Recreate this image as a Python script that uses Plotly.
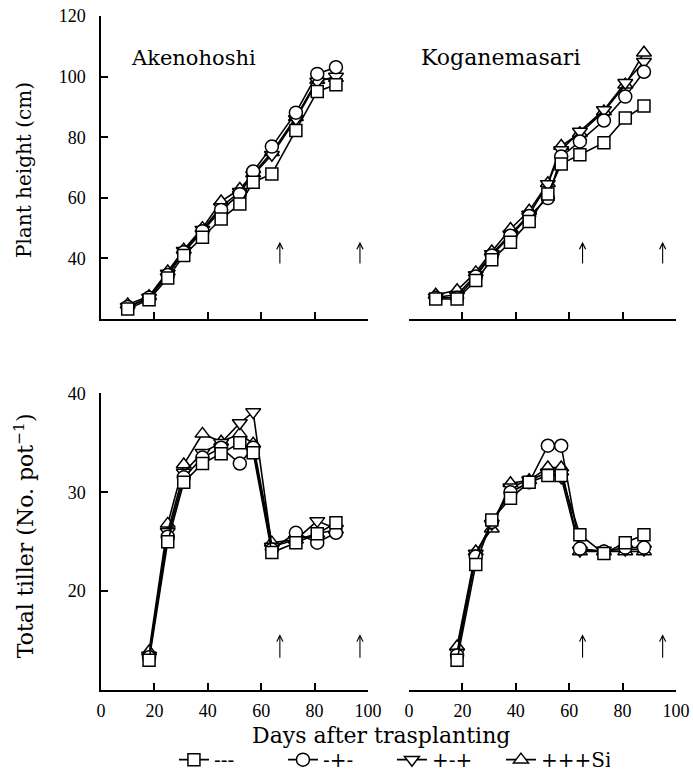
import plotly.graph_objects as go

# ---------------- data ----------------
days_height = [10, 18, 25, 31, 38, 45, 52, 57, 64, 73, 81, 88]
days_tiller = [18, 25, 31, 38, 45, 52, 57, 64, 73, 81, 88]
treatments = ["---", "-+-", "+-+", "+++Si"]
symbols = ["square", "circle", "triangle-down", "triangle-up"]
cultivars = ["Akenohoshi", "Koganemasari"]

# Plant height (cm)
height_akeno_mmm = [23.3, 26.4, 33.5, 41.0, 47.0, 53.0, 58.0, 65.1, 67.9, 82.2, 95.1, 97.3]
height_akeno_mpm = [24.0, 27.0, 34.5, 42.0, 49.0, 56.0, 61.2, 68.7, 76.9, 88.1, 100.9, 103.1]
height_akeno_pmp = [24.0, 27.0, 35.0, 42.5, 49.5, 57.0, 62.0, 67.5, 74.2, 86.0, 98.4, 100.0]
height_akeno_ppp = [24.8, 27.5, 35.7, 42.9, 50.0, 58.8, 62.9, 68.0, 75.0, 86.6, 98.9, 99.5]

height_kogane_mmm = [26.6, 26.6, 32.7, 39.6, 45.3, 52.2, 61.3, 71.2, 74.2, 78.2, 86.3, 90.3]
height_kogane_mpm = [27.0, 27.0, 34.0, 41.0, 47.5, 54.0, 59.9, 73.6, 78.6, 85.5, 93.4, 101.6]
height_kogane_pmp = [27.2, 28.0, 34.5, 41.5, 48.0, 54.5, 64.6, 75.8, 81.9, 89.0, 98.0, 104.9]
height_kogane_ppp = [28.0, 29.5, 35.4, 42.3, 49.7, 55.7, 64.8, 77.1, 81.3, 88.5, 97.3, 107.9]

# Total tiller (No. pot-1)
tiller_akeno_mmm = [13.0, 25.0, 31.0, 32.9, 33.9, 35.0, 34.0, 23.9, 24.9, 25.8, 26.9]
tiller_akeno_mpm = [13.3, 25.5, 31.5, 33.5, 34.5, 32.9, 34.5, 24.2, 25.9, 24.9, 25.9]
tiller_akeno_pmp = [13.5, 26.0, 32.0, 34.0, 35.0, 37.0, 38.1, 24.5, 25.2, 27.1, 26.3]
tiller_akeno_ppp = [13.9, 26.8, 32.8, 35.9, 35.1, 35.9, 34.9, 24.9, 25.2, 25.8, 26.2]

tiller_kogane_mmm = [13.0, 22.7, 27.2, 29.4, 31.0, 31.7, 31.7, 25.7, 23.8, 24.9, 25.7]
tiller_kogane_mpm = [13.5, 23.5, 27.0, 30.0, 31.0, 34.7, 34.7, 24.3, 24.0, 24.4, 24.4]
tiller_kogane_pmp = [13.8, 23.8, 26.8, 30.5, 31.2, 32.0, 31.5, 24.1, 24.1, 24.2, 24.2]
tiller_kogane_ppp = [14.4, 24.0, 26.3, 30.9, 31.2, 32.5, 32.5, 24.0, 24.0, 24.0, 24.0]

arrow_days_akeno = [67, 97]
arrow_days_kogane = [65, 95]

x_ticks = [0, 20, 40, 60, 80, 100]
height_ticks = [40, 60, 80, 100, 120]
tiller_ticks = [20, 30, 40]

# ---------------- figure ----------------
TICK_FONT = dict(family="Liberation Serif", size=18, color="black")
TEXT_FONT = "DejaVu Serif"

fig = go.Figure()

panels = [
    ("x", "y", days_height, [height_akeno_mmm, height_akeno_mpm, height_akeno_pmp, height_akeno_ppp], True),
    ("x2", "y2", days_height, [height_kogane_mmm, height_kogane_mpm, height_kogane_pmp, height_kogane_ppp], False),
    ("x3", "y3", days_tiller, [tiller_akeno_mmm, tiller_akeno_mpm, tiller_akeno_pmp, tiller_akeno_ppp], False),
    ("x4", "y4", days_tiller, [tiller_kogane_mmm, tiller_kogane_mpm, tiller_kogane_pmp, tiller_kogane_ppp], False),
]

for xa, ya, days, series, show in panels:
    # squares drawn last so they sit on top like in the original
    for idx in [3, 2, 1, 0]:
        fig.add_trace(go.Scatter(
            x=days, y=series[idx], xaxis=xa, yaxis=ya,
            mode="lines+markers", name=treatments[idx],
            legendrank=idx + 1,
            showlegend=show,
            line=dict(color="black", width=1.6),
            marker=dict(symbol=symbols[idx], size=12 if idx == 0 else 13,
                        color="white", line=dict(color="black", width=1.5)),
            cliponaxis=False,
        ))

axis_common = dict(showline=True, linecolor="black", linewidth=1.5, ticks="inside",
                   ticklen=7, tickwidth=1.5, tickcolor="black", showgrid=False,
                   zeroline=False, tickfont=TICK_FONT, automargin=False,
                   ticklabeloverflow="allow")

xl = [0, 0.4643]
xr = [0.5357, 1.0]
yt = [0.5504, 1.0]
yb = [0.0, 0.4402]

fig.update_layout(
    xaxis=dict(domain=xl, anchor="y", range=[0, 100], tickvals=x_ticks, showticklabels=False, **axis_common),
    yaxis=dict(domain=yt, anchor="x", range=[20, 120], tickvals=height_ticks, ticklabelstandoff=10, **axis_common),
    xaxis2=dict(domain=xr, anchor="y2", range=[0, 100], tickvals=x_ticks, showticklabels=False, **axis_common),
    yaxis2=dict(domain=yt, anchor="x2", range=[20, 120], visible=False),
    xaxis3=dict(domain=xl, anchor="y3", range=[0, 100], tickvals=x_ticks, ticklabelstandoff=4, **axis_common),
    yaxis3=dict(domain=yb, anchor="x3", range=[10, 40], tickvals=tiller_ticks, ticklabelstandoff=10, **axis_common),
    xaxis4=dict(domain=xr, anchor="y4", range=[0, 100], tickvals=x_ticks, ticklabelstandoff=4, **axis_common),
    yaxis4=dict(domain=yb, anchor="x4", range=[10, 40], visible=False),
    width=693, height=772,
    margin=dict(l=101, r=17, t=16, b=82, autoexpand=False),
    paper_bgcolor="white", plot_bgcolor="white",
    font=dict(family=TEXT_FONT, color="black"),
    legend=dict(orientation="h", xref="container", yref="container",
                x=0.251, xanchor="left", y=0.016, yanchor="middle",
                font=dict(family=TEXT_FONT, size=20, color="black"), traceorder="normal",
                entrywidth=64, entrywidthmode="pixels", bgcolor="rgba(0,0,0,0)"),
)

# y-axis titles
fig.add_annotation(x=-0.1339, y=0.7715, xref="paper", yref="paper", text="Plant height (cm)",
                   textangle=-90, xanchor="center", yanchor="middle", showarrow=False,
                   font=dict(family=TEXT_FONT, size=20, color="black"))
fig.add_annotation(x=-0.1339, y=0.228, xref="paper", yref="paper", text="Total tiller (No. pot<sup>\u22121</sup>)",
                   textangle=-90, xanchor="center", yanchor="middle", showarrow=False,
                   font=dict(family=TEXT_FONT, size=22, color="black"))

# cultivar labels
fig.add_annotation(x=34.5, y=106.2, xref="x", yref="y", text=cultivars[0], showarrow=False,
                   xanchor="center", yanchor="middle",
                   font=dict(family=TEXT_FONT, size=21, color="black"))
fig.add_annotation(x=34.1, y=106.2, xref="x2", yref="y2", text=cultivars[1], showarrow=False,
                   xanchor="center", yanchor="middle",
                   font=dict(family=TEXT_FONT, size=22, color="black"))

# x-axis title
fig.add_annotation(x=0.4878, y=-0.0668, xref="paper", yref="paper", text="Days after trasplanting",
                   xanchor="center", yanchor="middle", showarrow=False,
                   font=dict(family=TEXT_FONT, size=22, color="black"))

# arrows
arrow_specs = [
    ("x", "y", arrow_days_akeno, 45.5, 37.8),
    ("x2", "y2", arrow_days_kogane, 45.5, 37.8),
    ("x3", "y3", arrow_days_akeno, 15.65, 13.1),
    ("x4", "y4", arrow_days_kogane, 15.65, 13.1),
]
for xa, ya, ds, tip, tail in arrow_specs:
    for d in ds:
        fig.add_annotation(x=d, y=tip, ax=d, ay=tail, xref=xa, yref=ya, axref=xa, ayref=ya,
                           text="", showarrow=True, arrowhead=5, arrowsize=1.1, arrowwidth=1.1,
                           arrowcolor="black")

fig.write_html("out.html", config={"displayModeBar": False},
               post_script="document.body.style.margin='0';document.body.style.overflow='hidden';")
